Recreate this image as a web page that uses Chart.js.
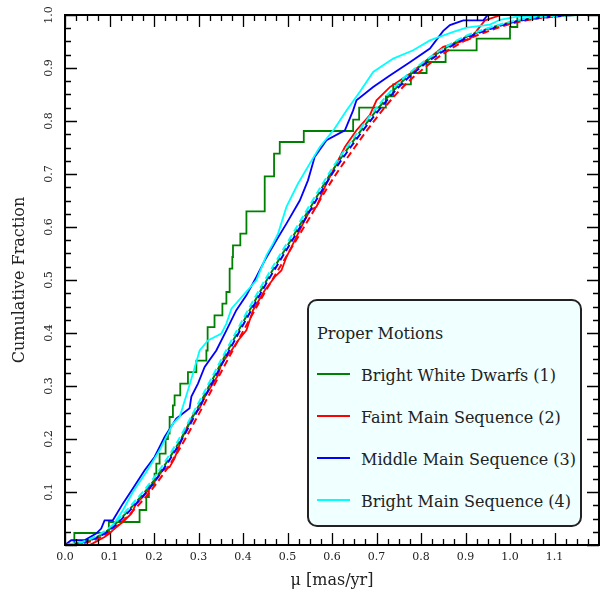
<!DOCTYPE html>
<html>
<head>
<meta charset="utf-8">
<script src="https://cdn.jsdelivr.net/npm/chart.js@4.4.1/dist/chart.umd.min.js"></script>
<style>
  body { margin: 0; background: #fff; }
  #wrap { position: relative; width: 600px; height: 594px; }
  #legend-box { position: absolute; left: 307px; top: 299px; width: 275px; height: 228px;
    box-sizing: border-box; border: 2px solid #222; border-radius: 10px; background: #f0ffff; }
  .lg { position: absolute; font: 16px "DejaVu Serif", serif; line-height: 20px;
    color: #222; white-space: nowrap; }
  .sw { position: absolute; width: 33px; height: 2px; }
</style>
</head>
<body>
<div id="wrap">
  <canvas id="cdf" width="600" height="594"></canvas>
  <div id="legend-box"></div>
  <div class="lg" style="left:317px;top:324px">Proper Motions</div>
  <div id="legend-rows"></div>
</div>
<script>
const SERIF = '"DejaVu Serif", serif';

// tick labels
const xTicks = [0.0, 0.1, 0.2, 0.3, 0.4, 0.5, 0.6, 0.7, 0.8, 0.9, 1.0, 1.1];
const yTicks = [0.1, 0.2, 0.3, 0.4, 0.5, 0.6, 0.7, 0.8, 0.9, 1.0];

const names = ['Bright White Dwarfs (1)', 'Faint Main Sequence (2)',
               'Middle Main Sequence (3)', 'Bright Main Sequence (4)'];
const colors = ['#008000', '#ff0000', '#0000ff', '#00ffff'];

const wdX = [0.021, 0.021, 0.0985, 0.1676, 0.1827, 0.1885, 0.2013, 0.2052, 0.2126, 0.2261, 0.2313,
  0.2351, 0.2425, 0.2463, 0.259, 0.2763, 0.2952, 0.3177, 0.3205, 0.336, 0.3537, 0.3627, 0.370,
  0.376, 0.3775, 0.394, 0.4077, 0.4488, 0.4698, 0.4826, 0.5366, 0.6475, 0.661, 0.721, 0.7375,
  0.7773, 0.8126, 0.8553, 0.925, 1.0, 1.0165, 1.2];
const wdY = [0, 0.0226, 0.0434, 0.066, 0.0906, 0.1126, 0.1347, 0.1536, 0.1725, 0.2, 0.21,
  0.2415, 0.2636, 0.2825, 0.3045, 0.326, 0.348, 0.367, 0.411, 0.4334, 0.4555, 0.4774, 0.5215,
  0.5434, 0.5655, 0.5875, 0.6296, 0.6957, 0.7385, 0.7604, 0.7811, 0.8026, 0.8253, 0.8466, 0.8692,
  0.8906, 0.9113, 0.9334, 0.9555, 0.9774, 1.0, 1.0];

const faintX = [0.055, 0.0626, 0.0889, 0.1, 0.111, 0.13, 0.149, 0.16, 0.175, 0.19, 0.205, 0.22,
  0.235, 0.246, 0.261, 0.276, 0.2876, 0.3026, 0.3138, 0.3437, 0.3514, 0.374, 0.389, 0.4076,
  0.4225, 0.449, 0.4713, 0.4863, 0.4976, 0.5088, 0.531, 0.55, 0.565, 0.584, 0.606, 0.629, 0.655,
  0.685, 0.70, 0.73, 0.775, 0.8126, 0.85, 0.91, 0.925, 0.944, 0.98, 1.2];
const faintY = [0, 0.003, 0.0151, 0.0215, 0.031, 0.0434, 0.0592, 0.078, 0.0906, 0.1064, 0.125, 0.141,
  0.147, 0.163, 0.1975, 0.225, 0.245, 0.258, 0.279, 0.32, 0.342, 0.367, 0.386, 0.405,
  0.443, 0.4805, 0.5057, 0.518, 0.5434, 0.562, 0.6, 0.631, 0.638, 0.6755, 0.713, 0.751, 0.7825,
  0.811, 0.839, 0.864, 0.889, 0.9145, 0.94, 0.955, 0.97, 0.99, 1.0, 1.0];

const middleX = [0, 0.014, 0.0439, 0.07, 0.0814, 0.0889, 0.1075, 0.13, 0.1525, 0.179, 0.2013,
  0.2238, 0.25, 0.28, 0.284, 0.2988, 0.3138, 0.34, 0.3627, 0.385, 0.4076, 0.43, 0.449, 0.475,
  0.4976, 0.5276, 0.546, 0.561, 0.5876, 0.629, 0.6475, 0.655, 0.6925, 0.73, 0.775, 0.82, 0.85,
  0.865, 0.895, 0.94, 0.95, 1.2];
const middleY = [0, 0.009, 0.009, 0.0215, 0.031, 0.0466, 0.0466, 0.078, 0.1064, 0.141, 0.166,
  0.2038, 0.2385, 0.258, 0.28, 0.3045, 0.336, 0.367, 0.405, 0.443, 0.471, 0.5057, 0.537, 0.575,
  0.6064, 0.65, 0.688, 0.732, 0.7636, 0.7825, 0.82, 0.839, 0.864, 0.886, 0.911, 0.9366, 0.97,
  0.981, 0.99, 0.99, 1.0, 1.0];

const brightX = [0.0176, 0.0439, 0.0776, 0.0927, 0.1075, 0.13, 0.1525, 0.1827, 0.2126, 0.2425,
  0.2576, 0.2763, 0.2875, 0.3026, 0.3213, 0.3514, 0.3627, 0.374, 0.4038, 0.43, 0.4526, 0.4675,
  0.4788, 0.4976, 0.5237, 0.55, 0.5726, 0.606, 0.6326, 0.6626, 0.6925, 0.7375, 0.7825, 0.82,
  0.8725, 0.9026, 0.955, 0.9775, 1.015, 1.16, 1.2];
const brightY = [0, 0.0057, 0.0151, 0.0245, 0.037, 0.0655, 0.1, 0.1377, 0.1787, 0.229,
  0.2415, 0.292, 0.3234, 0.367, 0.386, 0.399, 0.4177, 0.446, 0.4743, 0.4994, 0.5466, 0.5687,
  0.5875, 0.638, 0.682, 0.7196, 0.751, 0.7857, 0.82, 0.855, 0.8925, 0.9177, 0.9334, 0.952,
  0.968, 0.976, 0.982, 0.991, 0.997, 1.0, 1.0];

// fitted distributions (dashed)
const fitX = [0, 0.05, 0.1, 0.15, 0.2, 0.25, 0.3, 0.35, 0.4, 0.45, 0.5, 0.55, 0.6, 0.65, 0.7,
  0.75, 0.8, 0.85, 0.9, 0.95, 1.0, 1.05, 1.1, 1.15, 1.2];
const wdFit = [0, 0.008, 0.03, 0.072, 0.122, 0.185, 0.262, 0.342, 0.42, 0.495, 0.565, 0.635,
  0.705, 0.765, 0.82, 0.868, 0.905, 0.935, 0.958, 0.974, 0.986, 0.994, 0.998, 1, 1];
const faintFit = [0, 0.005, 0.024, 0.062, 0.11, 0.171, 0.246, 0.325, 0.403, 0.478, 0.548, 0.618,
  0.688, 0.749, 0.806, 0.856, 0.895, 0.927, 0.952, 0.969, 0.983, 0.992, 0.997, 1, 1];
const middleFit = [0, 0.007, 0.028, 0.069, 0.118, 0.181, 0.257, 0.337, 0.415, 0.49, 0.56, 0.63,
  0.7, 0.76, 0.815, 0.864, 0.902, 0.932, 0.956, 0.972, 0.985, 0.993, 0.997, 1, 1];
const brightFit = [0, 0.009, 0.033, 0.076, 0.127, 0.191, 0.268, 0.348, 0.426, 0.501, 0.571, 0.641,
  0.71, 0.77, 0.825, 0.872, 0.908, 0.937, 0.96, 0.975, 0.987, 0.995, 0.998, 1, 1];

function pts(xs, ys) {
  return xs.map((v, i) => ({x: v, y: ys[i]}));
}

const solids = [[wdX, wdY], [faintX, faintY], [middleX, middleY], [brightX, brightY]];
const fits = [wdFit, faintFit, middleFit, brightFit];

let datasets = [];
solids.forEach((s, i) => {
  datasets.push({
    label: names[i],
    data: pts(s[0], s[1]),
    borderColor: colors[i],
    borderWidth: 1.8,
    pointRadius: 0,
    stepped: i === 0,
    fill: false,
    order: 10 - i
  });
});
fits.forEach((f, i) => {
  datasets.push({
    label: names[i] + ' fit',
    data: pts(fitX, f),
    borderColor: colors[i],
    borderWidth: 2,
    borderDash: [7, 4],
    borderDashOffset: i * 2.75,
    pointRadius: 0,
    cubicInterpolationMode: 'monotone',
    fill: false,
    order: 4 - i
  });
});

// axes frame, inward ticks on all four sides, tick labels and titles
const framePlugin = {
  id: 'framePlugin',
  afterDatasetsDraw(chart) {
    const ctx = chart.ctx, a = chart.chartArea;
    const x = chart.scales.x, y = chart.scales.y;
    ctx.save();
    ctx.strokeStyle = '#000';
    ctx.lineWidth = 1.3;
    ctx.beginPath();
    for (let i = 0; i <= 48; i++) {
      const px = Math.round(x.getPixelForValue(i * 0.025)) + 0.5;
      const len = i % 4 === 0 ? 12 : 6;
      ctx.moveTo(px, a.bottom); ctx.lineTo(px, a.bottom - len);
      ctx.moveTo(px, a.top); ctx.lineTo(px, a.top + len);
    }
    for (let i = 0; i <= 40; i++) {
      const py = Math.round(y.getPixelForValue(i * 0.025)) + 0.5;
      const len = i % 4 === 0 ? 12 : 6;
      ctx.moveTo(a.left, py); ctx.lineTo(a.left + len, py);
      ctx.moveTo(a.right, py); ctx.lineTo(a.right - len, py);
    }
    ctx.stroke();
    ctx.lineWidth = 2;
    ctx.strokeRect(a.left, a.top, a.right - a.left, a.bottom - a.top);

    ctx.fillStyle = '#222';
    ctx.font = '11px ' + SERIF;
    ctx.textAlign = 'center';
    ctx.textBaseline = 'middle';
    xTicks.forEach(v => ctx.fillText(v.toFixed(1), x.getPixelForValue(v), a.bottom + 12));
    yTicks.forEach(v => {
      ctx.save();
      ctx.translate(a.left - 16, y.getPixelForValue(v));
      ctx.rotate(-Math.PI / 2);
      ctx.fillText(v.toFixed(1), 0, 0);
      ctx.restore();
    });

    ctx.font = '16px ' + SERIF;
    ctx.fillText('\u03bc [mas/yr]', (a.left + a.right) / 2, 581);
    ctx.save();
    ctx.translate(20, (a.top + a.bottom) / 2);
    ctx.rotate(-Math.PI / 2);
    ctx.fillText('Cumulative Fraction', 0, 0);
    ctx.restore();
    ctx.restore();
  }
};

new Chart(document.getElementById('cdf'), {
  type: 'line',
  data: {datasets: datasets},
  options: {
    responsive: false,
    animation: false,
    devicePixelRatio: 1,
    layout: {padding: {top: 15, right: 1, left: 0, bottom: 0}},
    plugins: {legend: {display: false}, tooltip: {enabled: false}},
    scales: {
      x: {
        type: 'linear', min: 0, max: 1.2,
        ticks: {display: false}, grid: {display: false}, border: {display: false},
        afterFit: s => { s.height = 49; }
      },
      y: {
        type: 'linear', min: 0, max: 1,
        ticks: {display: false}, grid: {display: false}, border: {display: false},
        afterFit: s => { s.width = 65; }
      }
    }
  },
  plugins: [framePlugin]
});

// legend rows
const rows = document.getElementById('legend-rows');
names.forEach((n, i) => {
  const lineY = 374 + i * 42;
  const sw = document.createElement('div');
  sw.className = 'sw';
  sw.style.left = '317px';
  sw.style.top = (lineY - 1) + 'px';
  sw.style.background = colors[i];
  rows.appendChild(sw);
  const t = document.createElement('div');
  t.className = 'lg';
  t.style.left = '361px';
  t.style.top = (lineY - 8) + 'px';
  t.textContent = n;
  rows.appendChild(t);
});
</script>
</body>
</html>
